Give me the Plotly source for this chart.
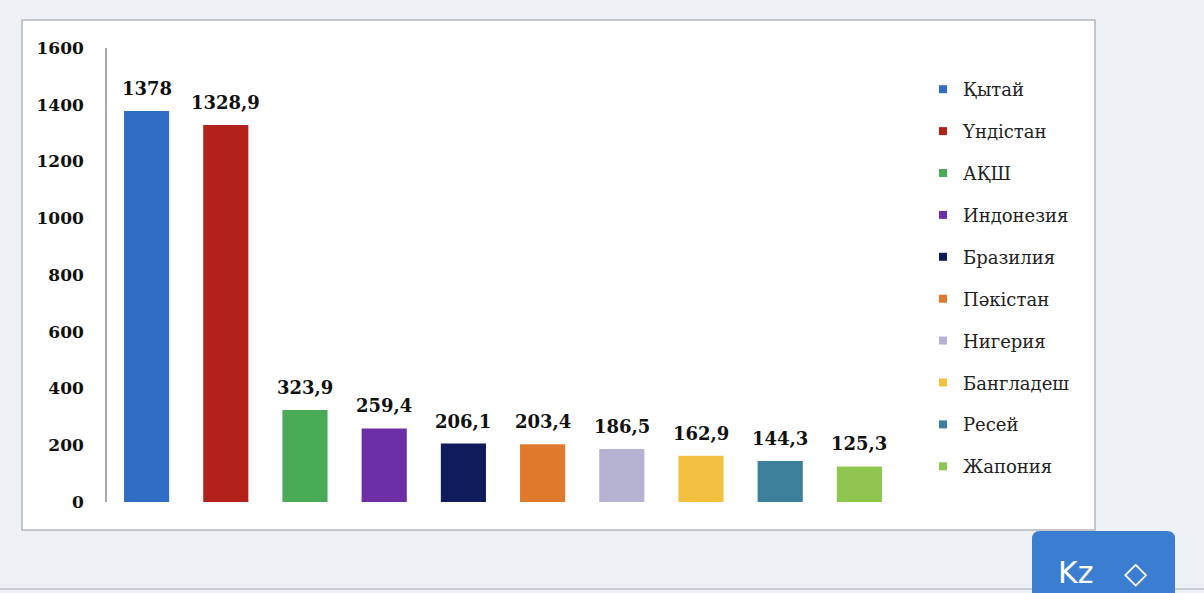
import plotly.graph_objects as go

countries = ["Қытай", "Үндістан", "АҚШ", "Индонезия", "Бразилия",
             "Пәкістан", "Нигерия", "Бангладеш", "Ресей", "Жапония"]
values = [1378, 1328.9, 323.9, 259.4, 206.1, 203.4, 186.5, 162.9, 144.3, 125.3]
colors = ["#2f6ec4", "#b3211b", "#4aab57", "#6c2fa6", "#0f1a5c",
          "#df7a2c", "#b6b2d2", "#f3c13f", "#3b7f9b", "#8fc64f"]
y_ticks = [0, 200, 400, 600, 800, 1000, 1200, 1400, 1600]

SERIF = "DejaVu Serif, Liberation Serif, serif"

fig = go.Figure()
for i, (c, v, col) in enumerate(zip(countries, values, colors)):
    fig.add_trace(go.Bar(
        x=[c], y=[v], name=c, marker=dict(color=col, line=dict(width=0)),
        width=0.57, legendgroup=f"g{i}", showlegend=False,
        hoverinfo="x+y",
    ))
    fig.add_trace(go.Scatter(
        x=[None], y=[None], name=c, mode="markers",
        marker=dict(symbol="square", size=8, color=col),
        legendgroup=f"g{i}", showlegend=True,
    ))
    fig.add_annotation(
        x=c, y=v, text=f"<b>{v:g}</b>".replace(".", ","),
        showarrow=False, yanchor="bottom", yshift=10,
        font=dict(family=SERIF, size=18, color="#111111"),
    )

W, H = 1204, 593
L, R, T, B = 107, 899, 48, 502

def px_x(p):
    return (p - L) / (R - L)

def px_y(p):
    return (B - p) / (B - T)

# white chart box with grey border
fig.add_shape(type="rect", xref="paper", yref="paper",
              x0=px_x(22), x1=px_x(1095), y0=px_y(530), y1=px_y(20),
              fillcolor="white", line=dict(color="#b4b8bd", width=1.5), layer="below")
# bottom grey line of page
fig.add_shape(type="line", xref="paper", yref="paper",
              x0=px_x(0), x1=px_x(1204), y0=px_y(589), y1=px_y(589),
              line=dict(color="#c9ced4", width=2), layer="below")
# "Kz" button overlay (rounded top corners)
bx0, bx1, by0, by1, r = px_x(1032), px_x(1175), px_y(531), px_y(600), 8
rx, ry = r / (R - L), r / (B - T)
path = (f"M {bx0},{by1} L {bx0},{by0 - ry} Q {bx0},{by0} {bx0 + rx},{by0} "
        f"L {bx1 - rx},{by0} Q {bx1},{by0} {bx1},{by0 - ry} L {bx1},{by1} Z")
fig.add_shape(type="path", xref="paper", yref="paper", path=path,
              fillcolor="#3b7dd0", line=dict(width=0), layer="above")
fig.add_annotation(xref="paper", yref="paper", x=px_x(1075), y=px_y(572),
                   xanchor="center", yanchor="middle",
                   text="Kz", showarrow=False,
                   font=dict(family="DejaVu Sans", size=30, color="white"))
fig.add_annotation(xref="paper", yref="paper", x=px_x(1135), y=px_y(572),
                   xanchor="center", yanchor="middle",
                   text="◇", showarrow=False,
                   font=dict(family="DejaVu Sans", size=30, color="white"))

fig.update_layout(
    width=W, height=H,
    margin=dict(l=L, r=W - R, t=T, b=H - B, pad=0),
    paper_bgcolor="#eef2f6",
    plot_bgcolor="rgba(0,0,0,0)",
    barmode="overlay",
    showlegend=True,
    legend=dict(
        x=px_x(923), y=px_y(71), xanchor="left", yanchor="top",
        font=dict(family=SERIF, size=18, color="#222222"),
        bgcolor="rgba(0,0,0,0)", tracegroupgap=15.5, itemwidth=30,
    ),
    xaxis=dict(showticklabels=False, showgrid=False, zeroline=False,
               showline=False, ticks="", range=[-0.5, 9.5]),
    yaxis=dict(range=[0, 1600], tickvals=y_ticks,
               ticktext=[f"<b>{t}</b>" for t in y_ticks],
               showgrid=False, zeroline=False,
               showline=True, linecolor="#a8acb0", linewidth=1.5,
               ticks="", ticklabelstandoff=18,
               tickfont=dict(family=SERIF, size=17, color="#111111")),
)

fig.write_html("out.html", config={"displayModeBar": False},
               post_script="document.body.style.margin='0';")
